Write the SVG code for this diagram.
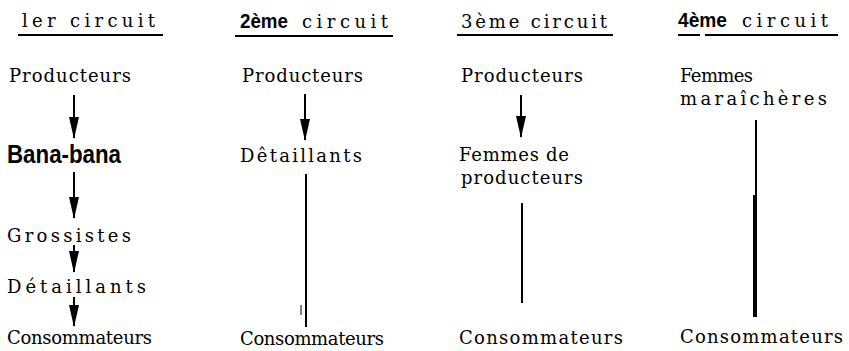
<svg xmlns="http://www.w3.org/2000/svg" width="849" height="351" viewBox="0 0 849 351">
<style>
.t{font-family:"DejaVu Serif","Liberation Serif",serif;font-size:18px;fill:#000}
.b{font-family:"Liberation Sans",Arial,sans-serif;font-weight:bold;fill:#000}
.ul{stroke:#000;stroke-width:2}
.c{stroke:#000;stroke-width:2;fill:none}
</style>
<defs>
<marker id="ah" markerUnits="userSpaceOnUse" markerWidth="22" markerHeight="12" refX="21" refY="6" orient="auto" viewBox="0 0 22 12">
<path d="M0,1 L22,6 L0,11 Z" fill="#000"/>
</marker>
</defs>
<rect width="849" height="351" fill="#fff"/>

<g id="headers">
<g id="h1"><text class="t" x="22" y="27" textLength="133" lengthAdjust="spacing">ler  circuit</text><line class="ul" x1="18" y1="35" x2="163" y2="35"/></g>
<g id="h2"><text class="b" x="240" y="28" font-size="21" textLength="48" lengthAdjust="spacingAndGlyphs">2ème</text><text class="t" x="302" y="28" textLength="86" lengthAdjust="spacing">circuit</text><line class="ul" x1="235" y1="36" x2="393" y2="36" stroke-width="2.5"/></g>
<g id="h3"><text class="t" x="461" y="28" textLength="146" lengthAdjust="spacing">3ème  circuit</text><line class="ul" x1="457" y1="35" x2="613" y2="35"/></g>
<g id="h4"><text class="b" x="678" y="27" font-size="21" textLength="49" lengthAdjust="spacingAndGlyphs">4ème</text><text class="t" x="742" y="27" textLength="86" lengthAdjust="spacing">circuit</text><line class="ul" x1="678" y1="35" x2="700" y2="35" stroke-width="2.5"/><line class="ul" x1="705" y1="35" x2="838" y2="35"/></g>
</g>

<g id="c1-producteurs"><text class="t" x="9" y="82" textLength="122" lengthAdjust="spacing">Producteurs</text></g>
<g id="c1-banabana"><text class="b" x="7" y="163" font-size="25" textLength="114" lengthAdjust="spacingAndGlyphs">Bana-bana</text></g>
<g id="c1-grossistes"><text class="t" x="7" y="242" textLength="124" lengthAdjust="spacing">Grossistes</text></g>
<g id="c1-detaillants"><text class="t" x="7" y="293" textLength="139" lengthAdjust="spacing">Détaillants</text></g>
<g id="c1-consommateurs"><text class="t" x="7" y="344" textLength="145" lengthAdjust="spacing">Consommateurs</text></g>

<g id="c2-producteurs"><text class="t" x="242" y="82" textLength="121" lengthAdjust="spacing">Producteurs</text></g>
<g id="c2-detaillants"><text class="t" x="240" y="162" textLength="122" lengthAdjust="spacing">Dêtaillants</text></g>
<g id="c2-consommateurs"><text class="t" x="240" y="345" textLength="144" lengthAdjust="spacing">Consommateurs</text></g>

<g id="c3-producteurs"><text class="t" x="461" y="82" textLength="122" lengthAdjust="spacing">Producteurs</text></g>
<g id="c3-femmes"><text class="t" x="459" y="161" textLength="110" lengthAdjust="spacing">Femmes  de</text><text class="t" x="461" y="184" textLength="122" lengthAdjust="spacing">producteurs</text></g>
<g id="c3-consommateurs"><text class="t" x="459" y="344" textLength="164" lengthAdjust="spacing">Consommateurs</text></g>

<g id="c4-femmes"><text class="t" x="680" y="82" textLength="73" lengthAdjust="spacing">Femmes</text><text class="t" x="680" y="105" textLength="147" lengthAdjust="spacing">maraîchères</text></g>
<g id="c4-consommateurs"><text class="t" x="680" y="343" textLength="163" lengthAdjust="spacing">Consommateurs</text></g>

<g id="connectors">
<line class="c" x1="74" y1="95" x2="74" y2="138" marker-end="url(#ah)"/>
<line class="c" x1="74" y1="172" x2="74" y2="218" marker-end="url(#ah)"/>
<line class="c" x1="74" y1="245" x2="74" y2="272" marker-end="url(#ah)"/>
<line class="c" x1="74" y1="297" x2="74" y2="326" marker-end="url(#ah)"/>
<line class="c" x1="305" y1="94" x2="305" y2="140" marker-end="url(#ah)"/>
<line class="c" x1="306" y1="174" x2="306" y2="327"/>
<line stroke="#000" stroke-width="1" x1="301" y1="305" x2="301" y2="315"/>
<line class="c" x1="521" y1="95" x2="521" y2="137" marker-end="url(#ah)"/>
<line class="c" x1="522" y1="203" x2="522" y2="303"/>
<line class="c" x1="756" y1="120" x2="756" y2="197"/>
<line stroke="#000" stroke-width="4" x1="755" y1="195" x2="755" y2="317"/>
</g>
</svg>
